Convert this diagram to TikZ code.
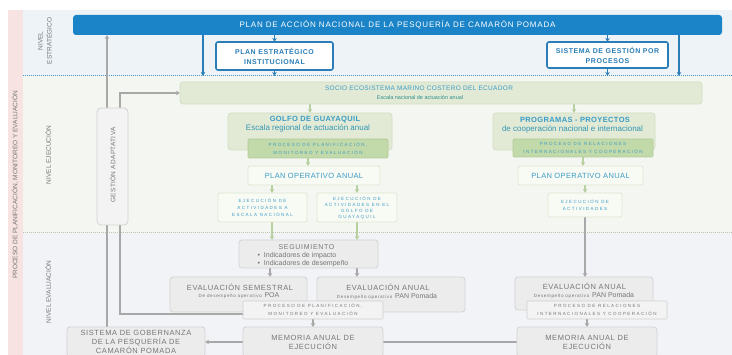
\documentclass[tikz,border=0pt]{standalone}
\usepackage{fontspec}
\setmainfont{Liberation Sans}
\newfontfamily\lsA[LetterSpace=5]{Liberation Sans}
\newfontfamily\lsB[LetterSpace=10]{Liberation Sans}
\newfontfamily\lsC[LetterSpace=8]{Liberation Sans}
\newfontfamily\lsM[LetterSpace=15]{Liberation Sans}
\newfontfamily\lsT[LetterSpace=32]{Liberation Sans}
\usetikzlibrary{arrows.meta}
\pgfdeclarelayer{bg}
\pgfdeclarelayer{conn}
\pgfsetlayers{bg,conn,main}
\newcommand\fsz[2]{\fontsize{#1}{#2}\selectfont}
\definecolor{barblue}{HTML}{1B84C8}
\definecolor{pblue}{HTML}{2A7DB6}
\definecolor{tealA}{HTML}{3A9CC6}
\definecolor{tealB}{HTML}{3596B4}
\definecolor{tealG}{HTML}{2E8E8A}
\definecolor{gtext}{HTML}{767676}
\definecolor{gfill}{HTML}{E2EAD5}
\definecolor{gdraw}{HTML}{D2DDC2}
\definecolor{ginfill}{HTML}{C2D9A9}
\definecolor{gindraw}{HTML}{B3CC98}
\definecolor{wgfill}{HTML}{F8FAF4}
\definecolor{wgdraw}{HTML}{DCE6D0}
\definecolor{grfill}{HTML}{ECECEC}
\definecolor{grdraw}{HTML}{D3D3D3}
\definecolor{gifill}{HTML}{F3F3F3}
\definecolor{gidraw}{HTML}{CFCFCF}
\definecolor{bandS}{HTML}{EEF3F8}
\definecolor{bandE}{HTML}{F4F7F1}
\definecolor{bandV}{HTML}{F1F3F6}
\definecolor{pinkc}{HTML}{F7E3E1}
\definecolor{dotA}{HTML}{4A95CC}
\definecolor{dotB}{HTML}{B9C6AF}
\definecolor{garc}{HTML}{B8CFA0}
\definecolor{grac}{HTML}{A8A8A8}
\tikzset{
  base/.style={inner sep=0pt, outer sep=0pt, align=center},
  barbox/.style={base, fill=barblue, rounded corners=3pt, text=white, font=\lsB\fsz{8}{9}},
  bluebox/.style={base, draw=pblue, line width=1.6pt, fill=white, rounded corners=2pt, text=pblue, font=\lsC\bfseries\fsz{7}{10}},
  gbox/.style={base, fill=gfill, draw=gdraw, line width=0.7pt, rounded corners=3pt},
  ginbox/.style={base, fill=ginfill, draw=gindraw, line width=0.6pt, rounded corners=1pt, text=tealA, font=\lsT\fsz{4.5}{8}},
  wgbox/.style={base, fill=wgfill, draw=wgdraw, line width=0.8pt, rounded corners=2pt, text=tealA, font=\lsA\fsz{7.5}{9}},
  tinyt/.style={font=\lsT\fsz{4.5}{7}},
  gabox/.style={base, fill=gifill, draw=grdraw, line width=0.8pt, rounded corners=4pt},
  grbox/.style={base, fill=grfill, draw=grdraw, line width=0.8pt, rounded corners=3pt, text=gtext, font=\lsC\fsz{7.5}{9}},
  gibox/.style={base, fill=gifill, draw=gidraw, line width=0.6pt, rounded corners=1pt, text=gtext, font=\lsT\fsz{4.5}{8}},
  lvl/.style={base, text=gtext, font=\fsz{6.5}{9}},
  barrow/.style={draw=pblue, line width=1.4pt, -{Stealth[length=4pt,width=4.5pt]}},
  garrow/.style={draw=garc, line width=1.2pt, -{Stealth[length=4pt,width=4.5pt]}},
  grarrow/.style={draw=grac, line width=1.2pt, -{Stealth[length=4pt,width=4.5pt]}},
  grline/.style={draw=grac, line width=1.2pt}
}
\begin{document}
\begin{tikzpicture}[x=1pt,y=-1pt]
\useasboundingbox (0,0) rectangle (732,355);
\clip (0,0) rectangle (732,355);
\begin{pgfonlayer}{bg}
\fill[bandS] (23,10) rectangle (732,76);
\fill[bandE] (23,76) rectangle (732,233);
\fill[bandV] (23,233) rectangle (732,355);
\fill[pinkc] (8,10) rectangle (23,355);
\coordinate (d1w) at (23,76);
\coordinate (d1e) at (732,76);
\coordinate (d2w) at (23,233);
\coordinate (d2e) at (732,233);
\draw[dotA, line width=1pt, dash pattern=on 1pt off 1pt] (d1w) -- (d1e);
\draw[dotB, line width=1pt, dash pattern=on 1pt off 1pt] (d2w) -- (d2e);
\end{pgfonlayer}
% level labels
\node[lvl, rotate=90] (lstr) at (45,41) {NIVEL\\ESTRATÉGICO};
\node[lvl, rotate=90] (leje) at (48,155) {NIVEL EJECUCIÓN};
\node[lvl, rotate=90] (leva) at (48,292) {NIVEL EVALUACIÓN};
\node[lvl, rotate=90] (lproc) at (15,185) {PROCESO DE PLANIFICACIÓN, MONITOREO Y EVALUACIÓN};
% strategic
\node[barbox, minimum width=649pt, minimum height=20pt] (bar) at (397.5,25) {PLAN DE ACCIÓN NACIONAL DE LA PESQUERÍA DE CAMARÓN POMADA};
\node[bluebox, minimum width=117pt, minimum height=28pt] (pei) at (274.5,56) {PLAN ESTRATÉGICO\\INSTITUCIONAL};
\node[bluebox, minimum width=121pt, minimum height=26pt] (sgp) at (607.5,55) {SISTEMA DE GESTIÓN POR\\PROCESOS};
\coordinate (s1) at (203,76);
\coordinate (s2) at (679,76);
% execution
\node[gbox, minimum width=522pt, minimum height=22pt] (socio) at (441,93) {};
\node[base, text=tealA, font=\lsA\fsz{6.5}{8}] (sociot1) at (419,88) {SOCIO ECOSISTEMA MARINO COSTERO DEL ECUADOR};
\node[base, text=tealG, font=\fsz{5.5}{7}] (sociot2) at (420,98) {Escala nacional de actuación anual};
\node[gabox, minimum width=31pt, minimum height=117pt] (ga) at (112.5,166.5) {};
\node[base, rotate=90, text=gtext, font=\lsA\fsz{6.5}{8}] (gat) at (112.5,165) {GESTIÓN ADAPTATIVA};
\node[gbox, minimum width=164pt, minimum height=37pt] (golfo) at (310,131.5) {};
\node[base, text=tealA, font=\lsA\bfseries\fsz{7.5}{9}] (golfot1) at (315,120) {GOLFO DE GUAYAQUIL};
\node[base, text=tealB, font=\fsz{8}{9}] (golfot2) at (308,128.5) {Escala regional de actuación anual};
\node[ginbox, minimum width=140pt, minimum height=19pt] (gin) at (318,148.5) {PROCESO DE PLANIFICACIÓN,\\MONITOREO Y EVALUACIÓN};
\node[wgbox, minimum width=132pt, minimum height=19pt] (poa1) at (314,175.5) {PLAN OPERATIVO ANUAL};
\node[wgbox, tinyt, minimum width=89pt, minimum height=29pt] (ejecA) at (262.5,207.5) {EJECUCIÓN DE\\ACTIVIDADES A\\ESCALA NACIONAL};
\node[wgbox, font=\lsT\fsz{4.5}{6}, minimum width=80pt, minimum height=29pt] (ejecB) at (357,207.5) {EJECUCIÓN DE\\ACTIVIDADES EN EL\\GOLFO DE\\GUAYAQUIL};
\node[gbox, minimum width=162pt, minimum height=37pt] (prog) at (574,131.5) {};
\node[base, text=tealA, font=\lsA\bfseries\fsz{7.5}{9}] (progt1) at (575,119.5) {PROGRAMAS - PROYECTOS};
\node[base, text=tealB, font=\fsz{8}{9}] (progt2) at (572.5,129) {de cooperación nacional e internacional};
\node[ginbox, minimum width=140pt, minimum height=18pt] (pin) at (583,148) {PROCESO DE RELACIONES\\INTERNACIONALES Y COOPERACIÓN};
\node[wgbox, minimum width=125pt, minimum height=19pt] (poa2) at (580.5,175.5) {PLAN OPERATIVO ANUAL};
\node[wgbox, tinyt, minimum width=74pt, minimum height=24pt] (ejecR) at (585,205) {EJECUCIÓN DE\\ACTIVIDADES};
% evaluation
\node[grbox, minimum width=139pt, minimum height=28pt] (seg) at (308.5,254) {};
\node[base, text=gtext, font=\lsB\fsz{7}{8}] (segt) at (306.5,247) {SEGUIMIENTO};
\node[base, text=gtext, font=\fsz{7}{7.5}, align=left] (segb) at (303,259.5) {\textbullet\ \ Indicadores de impacto\\\textbullet\ \ Indicadores de desempeño};
\node[grbox, minimum width=137pt, minimum height=35pt] (evS) at (238.5,294.5) {};
\node[base, text=gtext, font=\lsC\fsz{7.5}{9}] (evSt1) at (240,287) {EVALUACIÓN SEMESTRAL};
\node[base, text=gtext] (evSt2) at (239,296) {{\lsM\fsz{4.5}{6}De desempeño operativo} {\fsz{7}{8}POA}};
\node[grbox, minimum width=148pt, minimum height=35pt] (evA) at (391,294.5) {};
\node[base, text=gtext, font=\lsC\fsz{7.5}{9}] (evAt1) at (388,287) {EVALUACIÓN ANUAL};
\node[base, text=gtext] (evAt2) at (387,296) {{\lsM\fsz{4.5}{6}Desempeño operativo} {\fsz{7}{8}PAN Pomada}};
\node[gibox, minimum width=140pt, minimum height=18pt] (pe1) at (313,310) {PROCESO DE PLANIFICACIÓN,\\MONITOREO Y EVALUACIÓN};
\node[grbox, minimum width=140pt, minimum height=30pt] (mem1) at (313,342) {MEMORIA ANUAL DE\\EJECUCIÓN};
\node[grbox, minimum width=138pt, minimum height=30pt] (sg) at (136,342) {SISTEMA DE GOBERNANZA\\DE LA PESQUERÍA DE\\CAMARÓN POMADA};
\node[grbox, minimum width=138pt, minimum height=33pt] (evR) at (584,293.5) {};
\node[base, text=gtext, font=\lsC\fsz{7.5}{9}] (evRt1) at (584.5,286) {EVALUACIÓN ANUAL};
\node[base, text=gtext] (evRt2) at (584,295) {{\lsM\fsz{4.5}{6}Desempeño operativo} {\fsz{7}{8}PAN Pomada}};
\node[gibox, minimum width=140pt, minimum height=18pt] (pe2) at (597,310) {PROCESO DE RELACIONES\\INTERNACIONALES Y COOPERACIÓN};
\node[grbox, minimum width=140pt, minimum height=30pt] (mem2) at (587,342) {MEMORIA ANUAL DE\\EJECUCIÓN};
% connectors
\begin{pgfonlayer}{conn}
\draw[barrow] (bar.south -| pei.north) -- (pei.north);
\draw[barrow] (pei.south) -- (pei.south |- d1w);
\draw[barrow] (bar.south -| s1) -- (s1);
\draw[barrow] (bar.south -| sgp.north) -- (sgp.north);
\draw[barrow] (sgp.south) -- (sgp.south |- d1w);
\draw[barrow] (bar.south -| s2) -- (s2);
\coordinate (gx) at ([xshift=-29pt]sg.north);
\draw[grarrow] (gx) -- (gx |- bar.south);
\coordinate (gaT) at ([xshift=7.5pt]ga.north);
\coordinate (gaB) at ([xshift=7.5pt]ga.south);
\draw[grarrow] (gaT) |- (socio.west);
\coordinate (peL) at ([yshift=-4pt]pe1.west);
\draw[grline] (peL) -| (gaB);
\draw[garrow] (socio.south -| golfo.north) -- (golfo.north);
\draw[garrow] (socio.south -| prog.north) -- (prog.north);
\coordinate (p1a) at ([xshift=-6pt]poa1.north);
\draw[garrow] (p1a |- gin.south) -- (p1a);
\coordinate (eA) at ([xshift=9.5pt]ejecA.north);
\draw[garrow] (eA |- poa1.south) -- (eA);
\draw[garrow] (ejecB.north |- poa1.south) -- (ejecB.north);
\coordinate (eAs) at ([xshift=9.5pt]ejecA.south);
\draw[garrow] (eAs) -- (eAs |- seg.north);
\draw[garrow] (ejecB.south) -- (ejecB.south |- seg.north);
\draw[garrow] (pin.south) -- (pin.south |- poa2.north);
\draw[garrow] (ejecR.north |- poa2.south) -- (ejecR.north);
\coordinate (sL) at ([xshift=-38.5pt]seg.south);
\draw[grarrow] (sL) -- (sL |- evS.north);
\coordinate (sR) at ([xshift=48.5pt]seg.south);
\draw[grarrow] (sR) -- (sR |- evA.north);
\draw[grarrow] (pe1.south) -- (mem1.north);
\draw[grarrow] (ejecR.south) -- (ejecR.south |- evR.north);
\draw[grarrow] (pe2.south -| mem2.north) -- (mem2.north);
\draw[grarrow] (mem1.west) -- (sg.east);
\draw[grline] (mem1.east) -- (mem2.west);
\end{pgfonlayer}
\end{tikzpicture}
\end{document}
